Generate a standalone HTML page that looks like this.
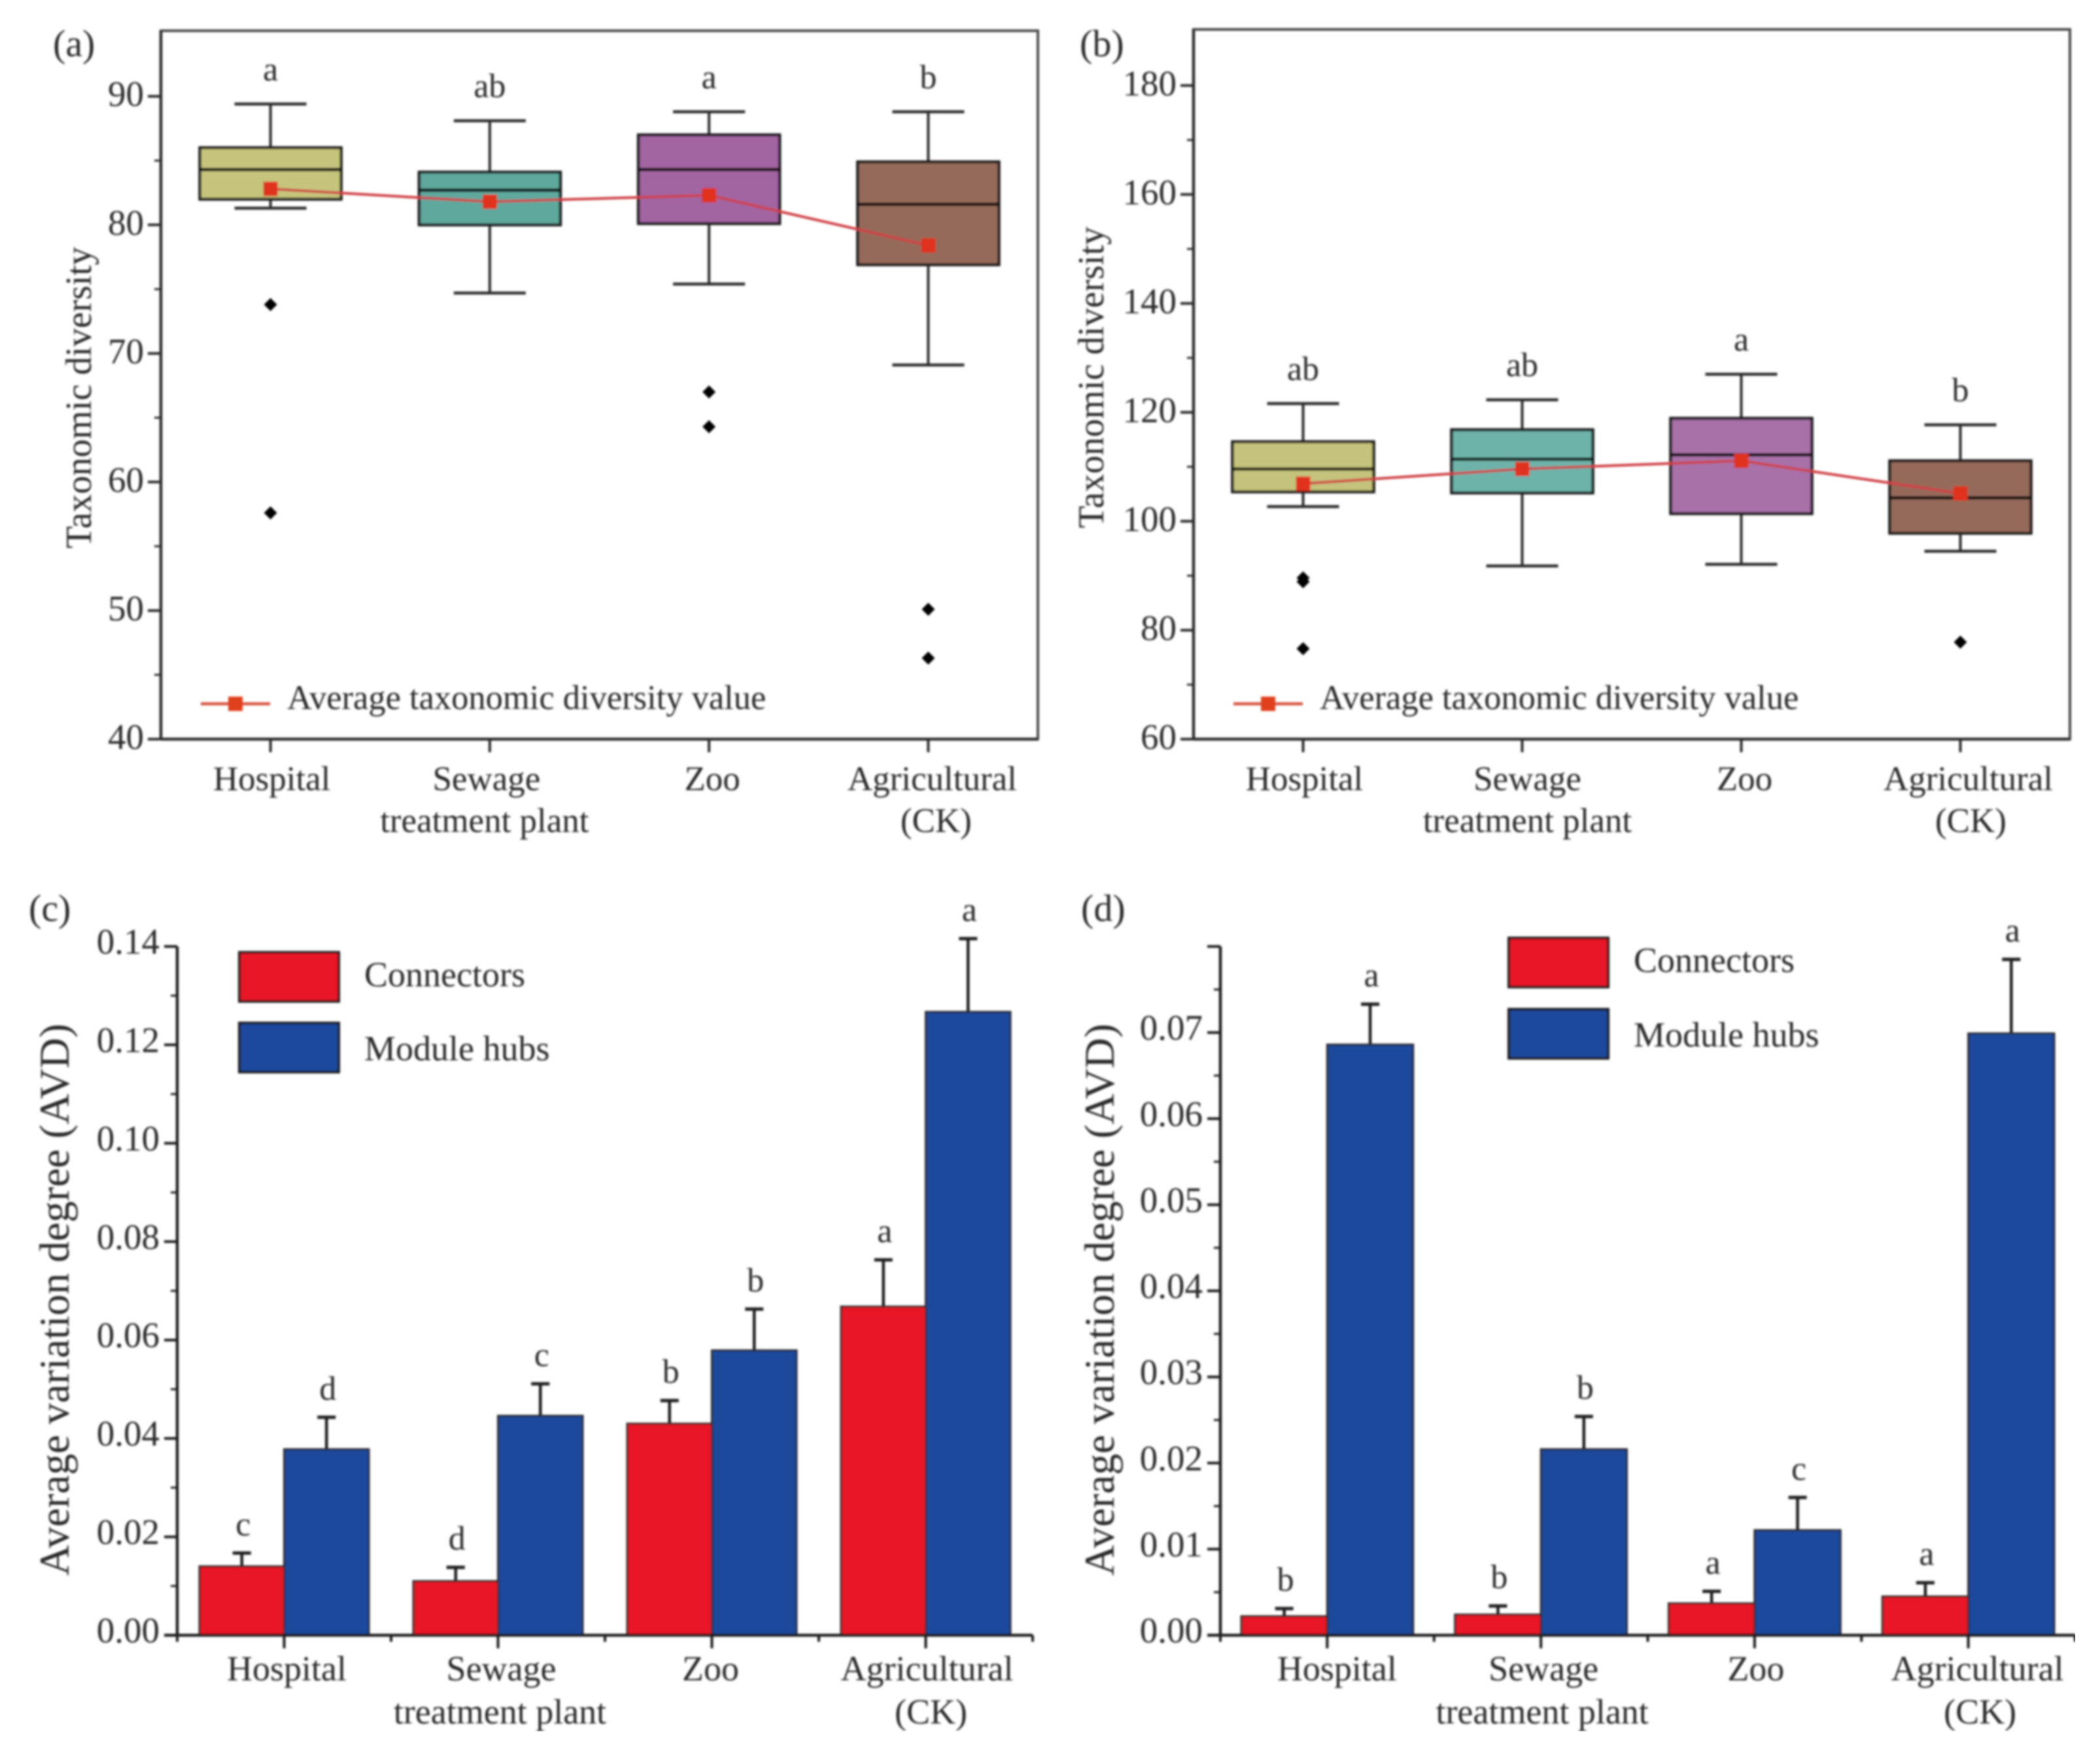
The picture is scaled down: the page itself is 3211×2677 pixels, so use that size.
<!DOCTYPE html>
<html lang="en">
<head>
<meta charset="utf-8">
<title>Taxonomic diversity and average variation degree</title>
<style>
html,body{margin:0;padding:0;background:#fff;}
svg{display:block;}
text{font-family:"Liberation Serif",serif;fill:#2a2a2a;}
</style>
</head>
<body>
<svg id="figure" xmlns="http://www.w3.org/2000/svg" width="3211" height="2677" viewBox="0 0 3211 2677">
<defs><filter id="soft" x="0" y="0" width="100%" height="100%"><feGaussianBlur stdDeviation="1.6"/></filter></defs>
<rect width="3211" height="2677" fill="#fff"/>
<g id="root" filter="url(#soft)"></g>
</svg>
<script>
// ---------- shared data ----------
const categories = [["Hospital"], ["Sewage", "treatment plant"], ["Zoo"], ["Agricultural", "(CK)"]];
const aBoxColors = ["#c6c47c", "#5fa89e", "#a265a2", "#966b5a"];
const bBoxColors = ["#c4c27c", "#6db3aa", "#a871a8", "#966b5a"];

// panel (a)
const aWhiskerHigh = [89.4, 88.1, 88.8, 88.8];
const aQ3 = [86.0, 84.1, 87.0, 84.9];
const aMedian = [84.3, 82.7, 84.3, 81.6];
const aQ1 = [82.0, 80.0, 80.1, 76.9];
const aWhiskerLow = [81.3, 74.7, 75.4, 69.1];
const aMean = [82.8, 81.8, 82.3, 78.4];
const aOutliers = [[73.8, 57.6], [], [67.0, 64.3], [50.1, 46.3]];
const aLetters = ["a", "ab", "a", "b"];
const aTicks = [40, 50, 60, 70, 80, 90];

// panel (b)
const bWhiskerHigh = [121.6, 122.3, 127.0, 117.7];
const bQ3 = [114.6, 116.8, 118.9, 111.1];
const bMedian = [109.6, 111.4, 112.2, 104.3];
const bQ1 = [105.4, 105.2, 101.4, 97.8];
const bWhiskerLow = [102.7, 91.8, 92.1, 94.5];
const bMean = [106.9, 109.6, 111.1, 105.1];
const bOutliers = [[89.6, 88.9, 76.6], [], [], [77.8]];
const bLetters = ["ab", "ab", "a", "b"];
const bTicks = [60, 80, 100, 120, 140, 160, 180];

// panel (c)
const cConnectors = [0.0140, 0.0110, 0.0430, 0.0668];
const cConnectorsErr = [0.0167, 0.0138, 0.0477, 0.0763];
const cHubs = [0.0378, 0.0446, 0.0579, 0.1267];
const cHubsErr = [0.0443, 0.0511, 0.0663, 0.1416];
const cConnectorLetters = ["c", "d", "b", "a"];
const cHubLetters = ["d", "c", "b", "a"];
const cTicks = [0, 0.02, 0.04, 0.06, 0.08, 0.10, 0.12, 0.14];

// panel (d)
const dConnectors = [0.0022, 0.0024, 0.0037, 0.0045];
const dConnectorsErr = [0.0031, 0.0034, 0.0051, 0.0061];
const dHubs = [0.0686, 0.0216, 0.0122, 0.0699];
const dHubsErr = [0.0733, 0.0254, 0.0160, 0.0785];
const dConnectorLetters = ["b", "b", "a", "a"];
const dHubLetters = ["a", "b", "c", "a"];
const dTicks = [0, 0.01, 0.02, 0.03, 0.04, 0.05, 0.06, 0.07];

// ---------- drawing helpers ----------
const NS = "http://www.w3.org/2000/svg";
const root = document.getElementById("root");

function make(tag, name, props, parent) {
  const el = document.createElementNS(NS, tag);
  
  
  for (const k in props) el.setAttribute(k, props[k]);
  (parent || root).appendChild(el);
  return el;
}
function line(name, x1, y1, x2, y2, stroke, w, parent) {
  return make("line", name, {x1, y1, x2, y2, stroke, "stroke-width": w}, parent);
}
function label(name, str, x, y, size, anchor, parent) {
  const el = make("text", name, {x, y, "font-size": size, "text-anchor": anchor || "middle"}, parent);
  el.textContent = str;
  return el;
}
function linearScale(d0, d1, r0, r1) {
  return v => r0 + (v - d0) * (r1 - r0) / (d1 - d0);
}
function yAxisTitle(name, str, x, y, size, parent) {
  const el = make("text", name, {x: 0, y: 0, "font-size": size, "text-anchor": "middle", transform: `translate(${x},${y}) rotate(-90)`}, parent);
  el.textContent = str;
}
function categoryLabels(g, centers, nudge, y1, y2, size) {
  categories.forEach((lines, i) => {
    lines.forEach((t, j) => {
      label("x-label-" + t.toLowerCase().replace(/[^a-z]+/g, "-").replace(/^-|-$/g, ""), t, centers(i) + nudge[i][j], j === 0 ? y1 : y2, size, "middle", g);
    });
  });
}

// ---------- box panels ----------
function boxPanel(p) {
  const g = make("g", "panel-" + p.id, {});
  const y = linearScale(p.dMin, p.dMax, p.bottom, p.top);
  const step = (p.right - p.left) / 4;
  const x = i => p.left + step / 2 + i * step;
  const axisColor = "#2a2a2a";

  label("panel-label-" + p.id, "(" + p.id + ")", p.labelX, p.labelY, 58, "start", g);
  make("rect", "plot-frame", {x: p.left, y: p.top, width: p.right - p.left, height: p.bottom - p.top, fill: "none", stroke: "#4a4a4a", "stroke-width": 4}, g);
  line("x-axis-line", p.left, p.bottom, p.right, p.bottom, axisColor, 4.5, g);
  line("y-axis-line", p.left, p.top, p.left, p.bottom, axisColor, 4.5, g);

  p.ticks.forEach(t => {
    line("y-tick", p.left - 20, y(t), p.left, y(t), axisColor, 4, g);
    label("y-tick-label", String(t), p.left - 26, y(t) + 15, 55, "end", g);
    const m = t + (p.ticks[1] - p.ticks[0]) / 2;
    if (m < p.ticks[p.ticks.length - 1]) line("y-minor-tick", p.left - 10, y(m), p.left, y(m), axisColor, 3, g);
  });
  yAxisTitle("y-axis-title", "Taxonomic diversity", p.titleX, p.titleY, 56, g);

  categories.forEach((c, i) => {
    const cx = x(i), nm = c[0].toLowerCase();
    line("x-tick", cx, p.bottom, cx, p.bottom + 20, axisColor, 4, g);
    line("whisker-stem-" + nm, cx, y(p.hi[i]), cx, y(p.lo[i]), "#2a2a2a", 4, g);
    line("whisker-cap-high-" + nm, cx - p.cap, y(p.hi[i]), cx + p.cap, y(p.hi[i]), "#2a2a2a", 4.5, g);
    line("whisker-cap-low-" + nm, cx - p.cap, y(p.lo[i]), cx + p.cap, y(p.lo[i]), "#2a2a2a", 4.5, g);
    make("rect", "box-" + nm, {x: cx - p.box, y: y(p.q3[i]), width: 2 * p.box, height: y(p.q1[i]) - y(p.q3[i]), fill: p.colors[i], stroke: "#1c1c1c", "stroke-width": 4.5}, g);
    line("median-" + nm, cx - p.box, y(p.med[i]), cx + p.box, y(p.med[i]), "#111", 5, g);
    p.out[i].forEach(v => {
      const o = y(v);
      make("polygon", "outlier-" + nm, {points: `${cx - 10},${o} ${cx},${o - 10} ${cx + 10},${o} ${cx},${o + 10}`, fill: "#000"}, g);
    });
    label("significance-letter-" + nm, p.letters[i], cx, y(p.hi[i]) - 36, 52, "middle", g);
  });

  make("polyline", "mean-line", {points: p.mean.map((v, i) => x(i) + "," + y(v)).join(" "), fill: "none", stroke: "#cf3f45", "stroke-width": 4}, g);
  p.mean.forEach((v, i) => {
    make("rect", "mean-marker", {x: x(i) - 11, y: y(v) - 11, width: 22, height: 22, fill: "#e0301e"}, g);
  });

  line("legend-line", p.legendX, p.legendY, p.legendX + 106, p.legendY, "#d8503c", 4.5, g);
  make("rect", "legend-marker", {x: p.legendX + 42, y: p.legendY - 11, width: 22, height: 22, fill: "#e0401e"}, g);
  label("legend-text", "Average taxonomic diversity value", p.legendX + 132, p.legendY + 8, 52.5, "start", g);

  categoryLabels(g, x, p.nudge, 1208, 1272, 53);
}

// ---------- bar panels ----------
function barPanel(p) {
  const g = make("g", "panel-" + p.id, {});
  const y = linearScale(p.dMin, p.dMax, p.bottom, p.top);
  const step = (p.right - p.left) / 4;
  const x = i => p.left + step / 2 + i * step;
  const axisColor = "#1e1e1e";

  label("panel-label-" + p.id, "(" + p.id + ")", p.labelX, p.labelY, 58, "start", g);

  categories.forEach((c, i) => {
    const cx = x(i), nm = c[0].toLowerCase();
    [[p.a, p.aErr, p.aLetters, -1, "#e81527", "connectors"], [p.b, p.bErr, p.bLetters, 0, "#1f4a9c", "module-hubs"]].forEach(s => {
      const left = cx + s[3] * p.bar, mid = left + p.bar / 2;
      line("error-bar-" + s[5] + "-" + nm, mid, y(s[1][i]), mid, y(s[0][i]), "#1a1a1a", 4.5, g);
      line("error-cap-" + s[5] + "-" + nm, mid - 14, y(s[1][i]), mid + 14, y(s[1][i]), "#1a1a1a", 5, g);
      make("rect", "bar-" + s[5] + "-" + nm, {x: left, y: y(s[0][i]), width: p.bar, height: p.bottom - y(s[0][i]), fill: s[4], stroke: "#2a2a2a", "stroke-width": 3}, g);
      label("significance-letter-" + s[5] + "-" + nm, s[2][i], mid + 2, y(s[1][i]) - 27, 52, "middle", g);
    });
  });

  line("y-axis-line", p.left, p.top, p.left, p.bottom, axisColor, 4.5, g);
  line("x-axis-line", p.left - 20, p.bottom, p.right, p.bottom, axisColor, 4.5, g);
  p.ticks.forEach(t => {
    line("y-tick", p.left - 20, y(t), p.left, y(t), axisColor, 4, g);
    label("y-tick-label", t.toFixed(2), p.left - 27, y(t) + 11, 55, "end", g);
    const m = t + (p.ticks[1] - p.ticks[0]) / 2;
    if (m < p.dMax) line("y-minor-tick", p.left - 10, y(m), p.left, y(m), axisColor, 3, g);
  });
  if (p.dMax > p.ticks[p.ticks.length - 1] + (p.ticks[1] - p.ticks[0]) / 2) {
    line("y-top-tick", p.left - 20, p.top, p.left, p.top, axisColor, 4, g);
  }
  yAxisTitle("y-axis-title", "Average variation degree (AVD)", p.titleX, p.titleY, 65, g);

  for (let i = 0; i < categories.length; i++) {
    line("x-tick", x(i), p.bottom, x(i), p.bottom + 20, axisColor, 4, g);
    line("x-minor-tick", x(i) - step / 2, p.bottom, x(i) - step / 2, p.bottom + 10, axisColor, 4, g);
  }
  line("x-minor-tick", x(3) + step / 2, p.bottom, x(3) + step / 2, p.bottom + 10, axisColor, 4, g);

  make("rect", "legend-swatch-connectors", {x: p.legX, y: p.legY1, width: 152, height: 75, fill: "#e81527", stroke: "#1c1c1c", "stroke-width": 4}, g);
  make("rect", "legend-swatch-module-hubs", {x: p.legX, y: p.legY2, width: 152, height: 75, fill: "#1f4a9c", stroke: "#1c1c1c", "stroke-width": 4}, g);
  label("legend-text-connectors", "Connectors", p.legX + 191, p.legY1 + 52, 54, "start", g);
  label("legend-text-module-hubs", "Module hubs", p.legX + 191, p.legY2 + 57, 54, "start", g);

  categoryLabels(g, x, p.nudge, 2569, 2635, 54);
}

boxPanel({
  id: "a", left: 246, right: 1587, top: 47, bottom: 1130, dMin: 40, dMax: 95.1,
  box: 108, cap: 55, colors: aBoxColors,
  hi: aWhiskerHigh, q3: aQ3, med: aMedian, q1: aQ1, lo: aWhiskerLow, mean: aMean, out: aOutliers,
  letters: aLetters, ticks: aTicks,
  labelX: 81, labelY: 86, titleX: 139, titleY: 608,
  legendX: 307, legendY: 1076,
  nudge: [[2], [-5, -8], [5], [6, 12]]
});
boxPanel({
  id: "b", left: 1825, right: 3165, top: 45, bottom: 1130, dMin: 60, dMax: 190.3,
  box: 108, cap: 55, colors: bBoxColors,
  hi: bWhiskerHigh, q3: bQ3, med: bMedian, q1: bQ1, lo: bWhiskerLow, mean: bMean, out: bOutliers,
  letters: bLetters, ticks: bTicks,
  labelX: 1651, labelY: 86, titleX: 1687, titleY: 577,
  legendX: 1886, legendY: 1076,
  nudge: [[2], [8, 8], [5], [12, 16]]
});
barPanel({
  id: "c", left: 271, right: 1579, top: 1447, bottom: 2500, dMin: 0, dMax: 0.14,
  bar: 129.5,
  a: cConnectors, aErr: cConnectorsErr, b: cHubs, bErr: cHubsErr,
  aLetters: cConnectorLetters, bLetters: cHubLetters, ticks: cTicks,
  labelX: 44, labelY: 1408, titleX: 105, titleY: 1987,
  legX: 366, legY1: 1456, legY2: 1564,
  nudge: [[4], [5, 3], [-2], [2, 8]]
});
barPanel({
  id: "d", left: 1866, right: 3173, top: 1447, bottom: 2500, dMin: 0, dMax: 0.08,
  bar: 131.4,
  a: dConnectors, aErr: dConnectorsErr, b: dHubs, bErr: dHubsErr,
  aLetters: dConnectorLetters, bLetters: dHubLetters, ticks: dTicks,
  labelX: 1653, labelY: 1408, titleX: 1703, titleY: 1987,
  legX: 2307, legY1: 1434, legY2: 1543,
  nudge: [[15], [4, 2], [2], [14, 18]]
});
</script>
</body>
</html>
